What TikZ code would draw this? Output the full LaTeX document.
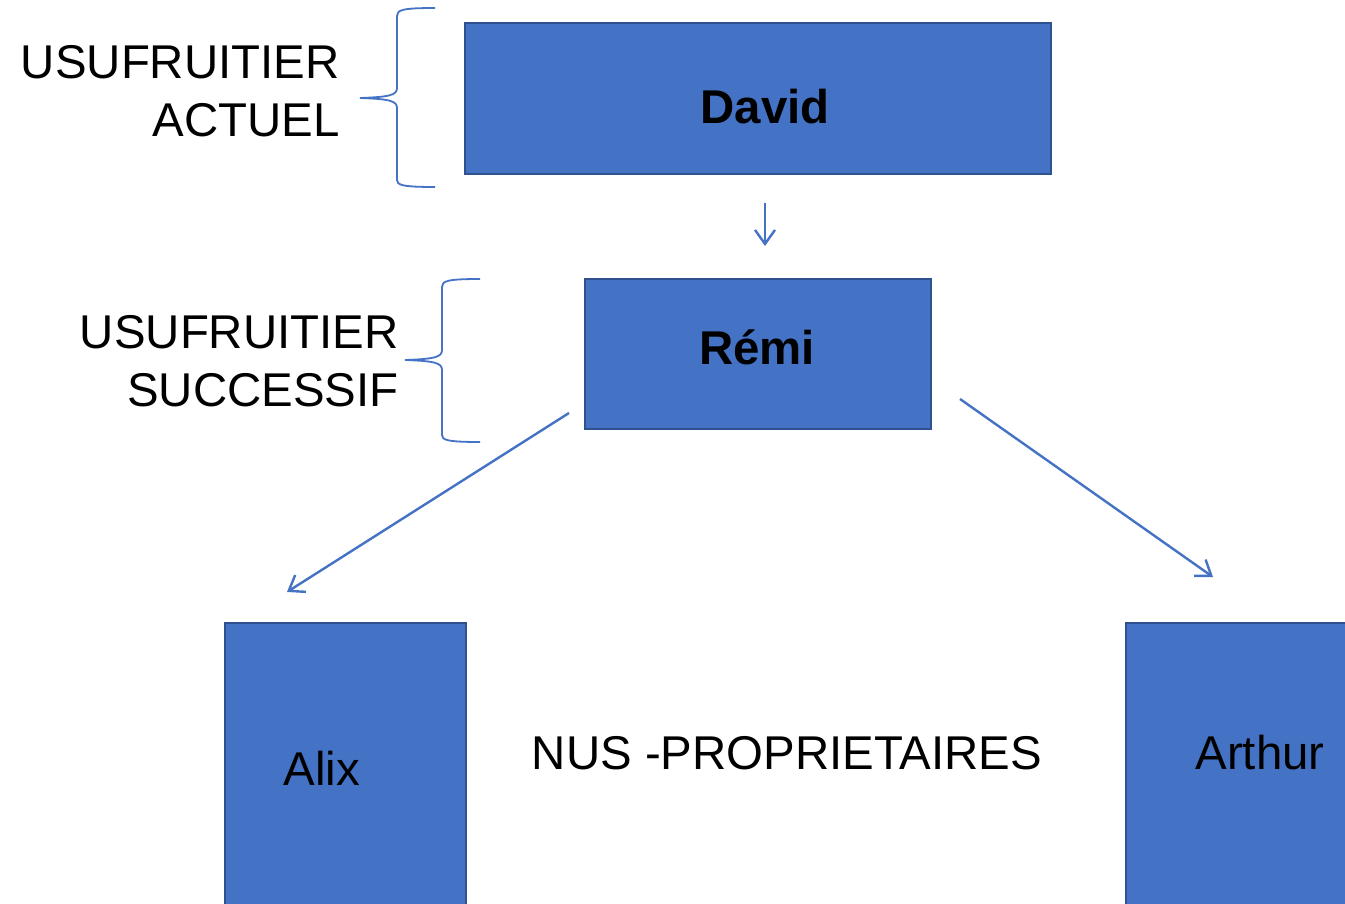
\documentclass[tikz,border=0pt]{standalone}
\usepackage{fontspec}
\setmainfont{Liberation Sans}
\usetikzlibrary{arrows.meta}
\definecolor{boxfill}{HTML}{4472C4}
\definecolor{boxedge}{HTML}{2F528F}
\definecolor{linecol}{HTML}{4472C4}
\tikzset{
  person/.style={draw=boxedge, fill=boxfill, line width=1pt, inner sep=0pt},
  lbl/.style={font=\fontsize{23.7}{29}\selectfont, text=black, inner sep=0pt},
  blbl/.style={font=\fontsize{23.7}{29}\selectfont\bfseries, text=black, inner sep=0pt},
  conn/.style={draw=linecol, line width=1.2pt, -{Straight Barb[length=7pt,width=10pt]}},
  brace/.style={draw=linecol, line width=0.9pt},
}
\begin{document}
\begin{tikzpicture}[x=0.5pt,y=-0.5pt]
\useasboundingbox (0,0) rectangle (1345,904);
\clip (0,0) rectangle (1345,904);
% boxes
\node[person, minimum width=293pt, minimum height=75.5pt, anchor=north west] (david) at (464,22) {};
\node[person, minimum width=173pt, minimum height=75pt, anchor=north west] (remi) at (584,278) {};
\node[person, minimum width=120.5pt, minimum height=160pt, anchor=north west] (alix) at (224,622) {};
\node[person, minimum width=120pt, minimum height=160pt, anchor=north west] (arthur) at (1125,622) {};
% texts
\node[blbl] (tdavid) at (765,107) {David};
\node[blbl] (tremi) at (757,347) {Rémi};
\node[lbl] (talix) at (322,768) {Alix};
\node[lbl] (tarthur) at (1260,753) {Arthur};
\node[lbl] (tnus) at (787,753) {NUS -PROPRIETAIRES};
\node[lbl, align=right, anchor=east] (tact) at (340,91) {USUFRUITIER\\ACTUEL};
\node[lbl, align=right, anchor=east] (tsuc) at (399,361) {USUFRUITIER\\SUCCESSIF};
% braces
\draw[brace] (435,8) .. controls (402,8) and (397,10) .. (397,16) -- (397,88)
  .. controls (397,95) and (390,97) .. (360,98)
  .. controls (390,99) and (397,101) .. (397,108) -- (397,180)
  .. controls (397,185) and (402,187) .. (435,187);
\draw[brace] (480,279) .. controls (447,279) and (442,281) .. (442,287) -- (442,350)
  .. controls (442,357) and (435,359) .. (405,360)
  .. controls (435,361) and (442,363) .. (442,370) -- (442,435)
  .. controls (442,440) and (447,442) .. (480,442);
% arrows
\coordinate (a1s) at (765,203);
\coordinate (a1e) at (765,246);
\coordinate (a2s) at (569,413);
\coordinate (a2e) at (287,592);
\coordinate (a3s) at (960,399);
\coordinate (a3e) at (1213,577);
\draw[conn] (a1s) -- (a1e);
\draw[conn] (a2s) -- (a2e);
\draw[conn] (a3s) -- (a3e);
\end{tikzpicture}
\end{document}
